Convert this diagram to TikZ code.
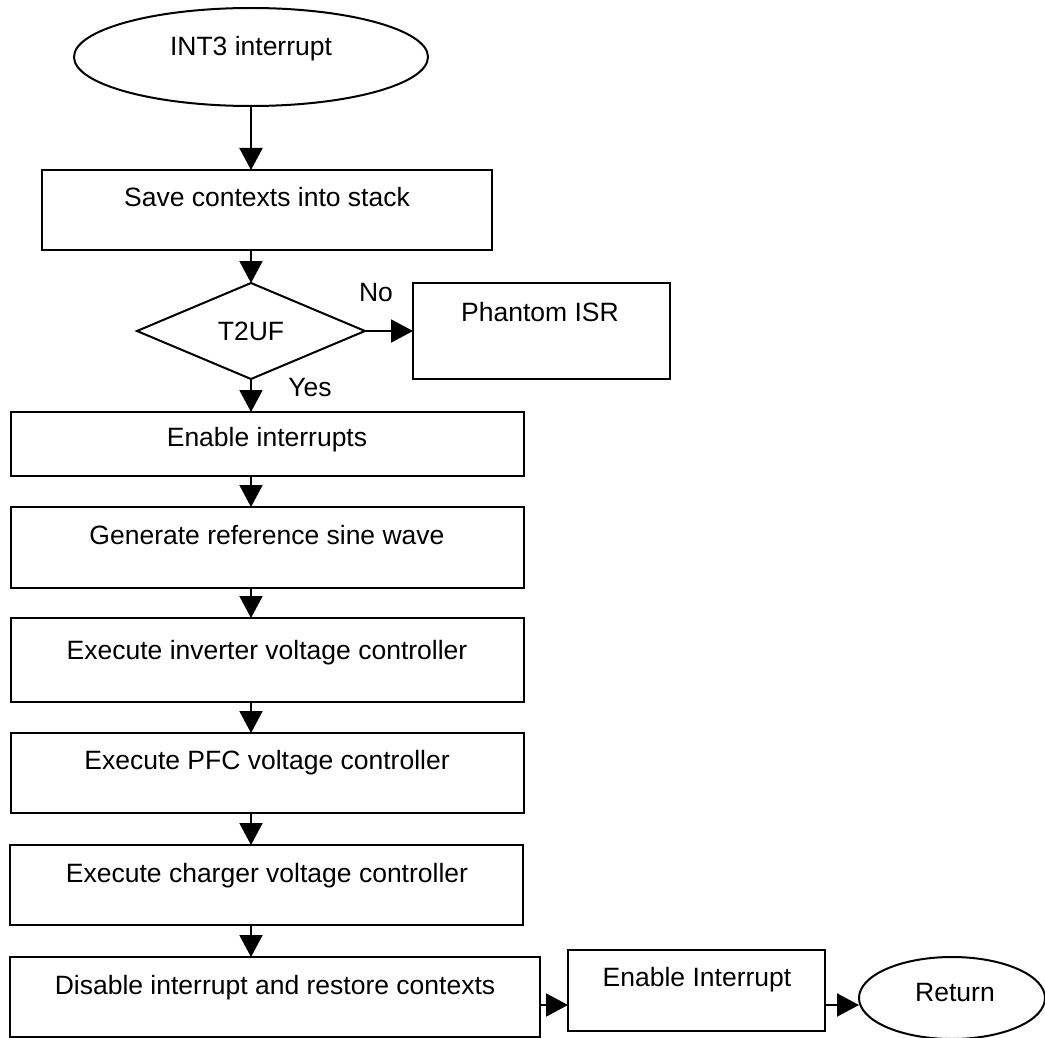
\documentclass[tikz,border=0pt]{standalone}
\usepackage{fontspec}
\setmainfont{Liberation Sans}
\usetikzlibrary{shapes.geometric,arrows.meta}
\begin{document}
\begin{tikzpicture}[x=1pt,y=-1pt,
  lbl/.style={font=\fontsize{26.5}{30}\selectfont, inner sep=0pt, anchor=base},
  stepbox/.style={draw, line width=2pt, rectangle, inner sep=0pt, outer sep=0pt},
  terminal/.style={draw, line width=2pt, ellipse, inner sep=0pt, outer sep=0pt},
  arr/.style={line width=2pt, -{Triangle[width=23pt,length=22pt]}}]
\useasboundingbox (0,0) rectangle (1045,1038);

% terminals
\node[terminal, minimum width=354pt, minimum height=98pt] (int3) at (251,57) {};
\node[terminal, minimum width=186pt, minimum height=82pt] (ret) at (952,998) {};

% decision
\node[draw, line width=2pt, diamond, inner sep=0pt, outer sep=0pt,
      minimum width=228pt, minimum height=96pt,
      font=\fontsize{26.5}{30}\selectfont] (dec) at (251,331) {T2UF};

% process boxes
\node[stepbox, minimum width=450pt, minimum height=80pt] (save) at (267,210) {};
\node[stepbox, minimum width=257pt, minimum height=96pt] (ph)   at (541.5,331) {};
\node[stepbox, minimum width=513pt, minimum height=64pt] (en)   at (267.5,444) {};
\node[stepbox, minimum width=513pt, minimum height=81pt] (gen)  at (267.5,547.5) {};
\node[stepbox, minimum width=513pt, minimum height=84pt] (inv)  at (267.5,660) {};
\node[stepbox, minimum width=513pt, minimum height=80pt] (pfc)  at (267.5,773) {};
\node[stepbox, minimum width=513pt, minimum height=80pt] (chg)  at (266.5,885) {};
\node[stepbox, minimum width=530pt, minimum height=80pt] (dis)  at (275,997) {};
\node[stepbox, minimum width=257pt, minimum height=81pt] (eni)  at (696.5,990.5) {};

% texts
\node[lbl] (tint3) at (251,56)  {INT3 interrupt};
\node[lbl] (tsave) at (267,207) {Save contexts into stack};
\node[lbl] (tno)   at (376,301) {No};
\node[lbl] (tyes)  at (310,396) {Yes};
\node[lbl] (tph)   at (540,321) {Phantom ISR};
\node[lbl] (ten)   at (267,446) {Enable interrupts};
\node[lbl] (tgen)  at (267,544) {Generate reference sine wave};
\node[lbl] (tinv)  at (267,659) {Execute inverter voltage controller};
\node[lbl] (tpfc)  at (267,769) {Execute PFC voltage controller};
\node[lbl] (tchg)  at (267,882) {Execute charger voltage controller};
\node[lbl] (tdis)  at (275,994) {Disable interrupt and restore contexts};
\node[lbl] (teni)  at (697,986) {Enable Interrupt};
\node[lbl] (tret)  at (955,1001) {Return};

% connectors
\draw[arr] (int3.south) -- (int3.south |- save.north);
\draw[arr] (save.south -| dec.north) -- (dec.north);
\draw[arr] (dec.east) -- (dec.east -| ph.west);
\draw[arr] (dec.south) -- (dec.south |- en.north);
\draw[arr] (en.south -| dec.south) -- (dec.south |- gen.north);
\draw[arr] (gen.south -| dec.south) -- (dec.south |- inv.north);
\draw[arr] (inv.south -| dec.south) -- (dec.south |- pfc.north);
\draw[arr] (pfc.south -| dec.south) -- (dec.south |- chg.north);
\draw[arr] (chg.south -| dec.south) -- (dec.south |- dis.north);
\coordinate (row) at (0,1005);
\draw[arr] (dis.east |- row) -- (eni.west |- row);
\draw[arr] (eni.east |- row) -- (ret.west |- row);
\end{tikzpicture}
\end{document}
